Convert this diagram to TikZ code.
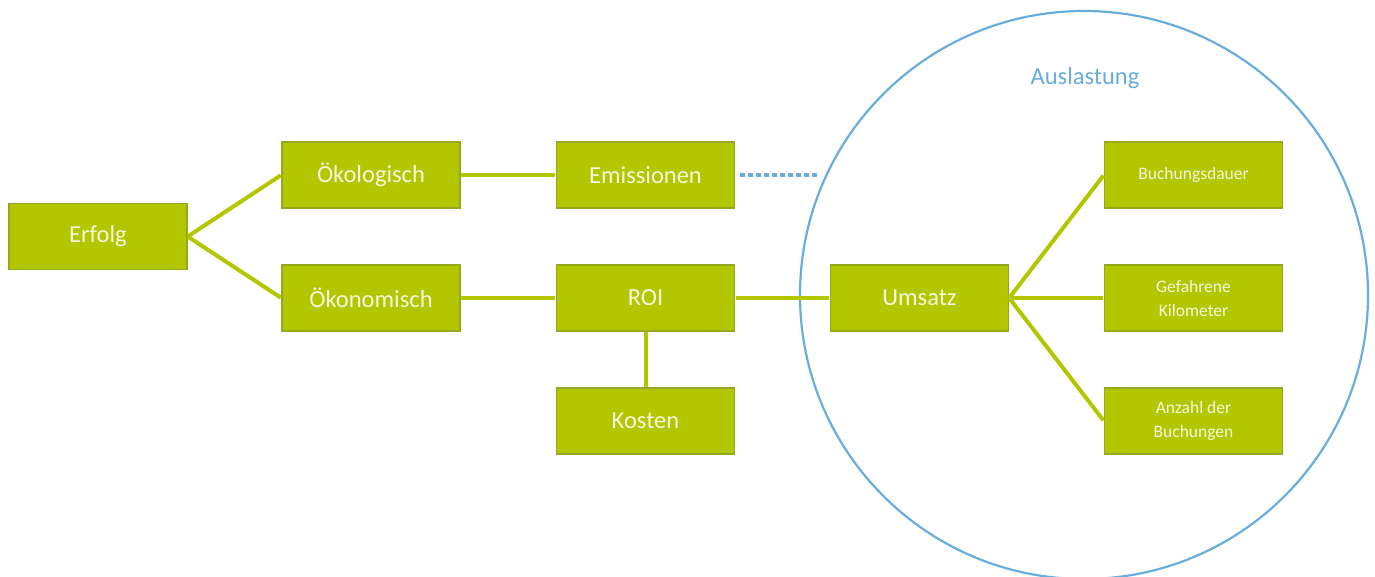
\documentclass[tikz,border=0pt]{standalone}
\usepackage{fontspec}
\setmainfont{Carlito}
\definecolor{boxgreen}{RGB}{179,199,0}
\definecolor{boxedge}{RGB}{150,168,30}
\definecolor{boxtext}{RGB}{244,247,222}
\definecolor{circblue}{RGB}{104,173,219}
\begin{document}
\begin{tikzpicture}[x=1pt,y=-1pt,
  kbox/.style={draw=boxedge,line width=1.3pt,fill=boxgreen,text=boxtext,
    minimum width=178pt,minimum height=66pt,inner sep=0pt,
    font=\fontsize{24.5}{28}\selectfont,align=center},
  sbox/.style={kbox,font=\fontsize{17.5}{24}\selectfont},
  link/.style={draw=boxgreen,line width=4pt,shorten <=0.7pt,shorten >=0.7pt}]
\useasboundingbox (0,0) rectangle (1375,577);
% circle
\node[draw=circblue,line width=2.2pt,circle,minimum size=568pt,inner sep=0pt] (circ) at (1084,295) {};
\node[text=circblue,font=\fontsize{24.5}{28}\selectfont] (ausl) at (1085,78) {Auslastung};
% boxes
\node[kbox] (erfolg) at (98,236.5) {Erfolg};
\node[kbox] (oekol) at (371,175) {Ökologisch};
\node[kbox] (oekon) at (371,298) {Ökonomisch};
\node[kbox] (emis) at (645.5,175) {Emissionen};
\node[kbox] (roi) at (645.5,298) {ROI};
\node[kbox] (kosten) at (645.5,421) {Kosten};
\node[kbox] (umsatz) at (919.5,298) {Umsatz};
\node[sbox] (dauer) at (1193.5,175) {Buchungsdauer};
\node[sbox] (km) at (1193.5,298) {Gefahrene\\Kilometer};
\node[sbox] (anz) at (1193.5,421) {Anzahl der\\Buchungen};
% connectors
\draw[link] (erfolg.east) -- (oekol.west);
\draw[link] (erfolg.east) -- (oekon.west);
\draw[link] (oekol.east) -- (emis.west);
\draw[link] (oekon.east) -- (roi.west);
\draw[link] (roi.east) -- (umsatz.west);
\draw[link] (roi.south) -- (kosten.north);
\draw[link] (umsatz.east) -- (dauer.west);
\draw[link] (umsatz.east) -- (km.west);
\draw[link] (umsatz.east) -- (anz.west);
\coordinate (dotend) at (820,175);
\draw[circblue,line width=4pt,dash pattern=on 4.5pt off 3.5pt] ([xshift=5pt]emis.east) -- (dotend);
\end{tikzpicture}
\end{document}
